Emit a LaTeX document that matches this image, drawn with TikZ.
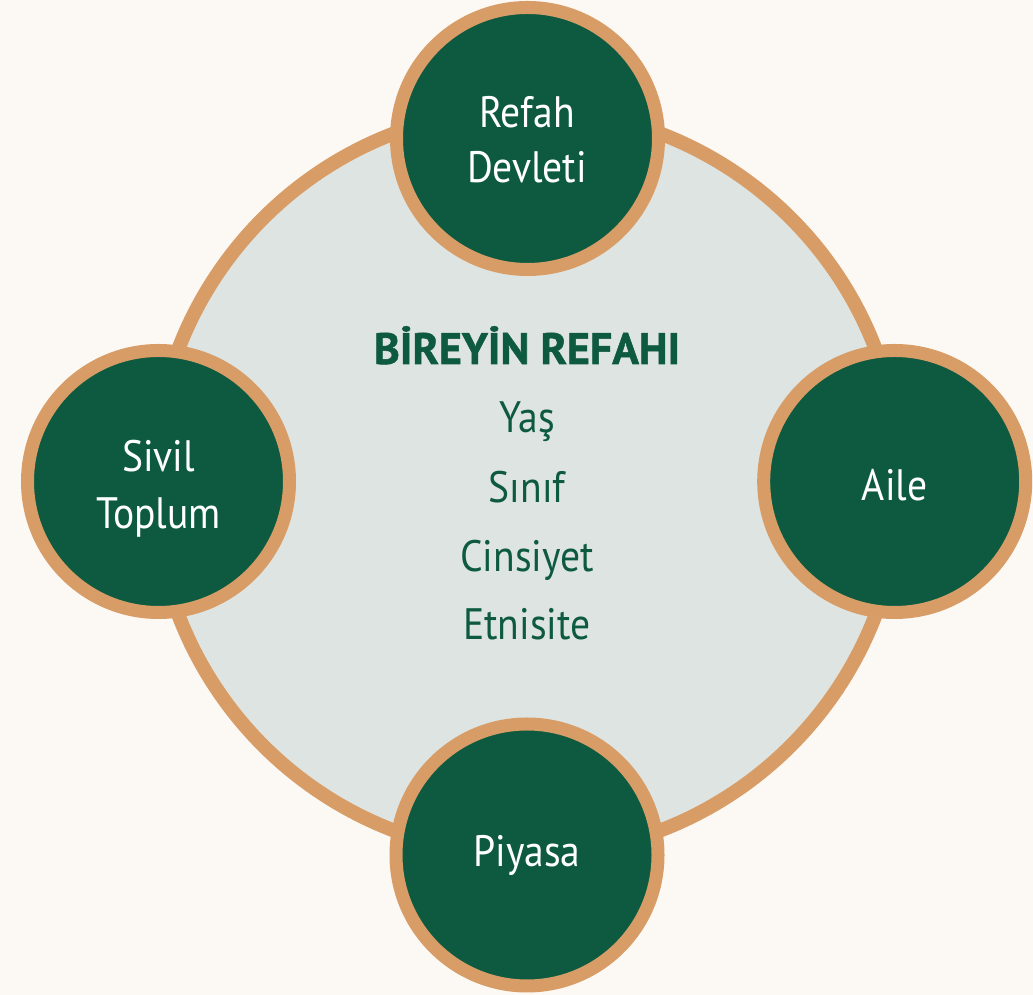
\documentclass[tikz,border=0pt]{standalone}
\usepackage{fontspec}
\setmainfont{PT Sans}[FakeStretch=0.9]
\newfontfamily\titlefont{PT Sans}[FakeStretch=1.0,UprightFont=* Bold,FakeBold=1.2]
\definecolor{bgc}{HTML}{FCF8F3}
\definecolor{ringc}{HTML}{D89C66}
\definecolor{greenc}{HTML}{0D5A40}
\definecolor{palec}{HTML}{DEE4E1}
\tikzset{
  x=1pt,y=1pt,
  hub/.style={circle,draw=ringc,line width=14pt,fill=palec,minimum size=746pt,inner sep=0pt},
  sat/.style={circle,draw=ringc,line width=13pt,fill=greenc,minimum size=262pt,inner sep=0pt},
  wlab/.style={anchor=base,text=white,font=\fontsize{44}{44}\selectfont,inner sep=0pt},
  glab/.style={anchor=base,text=greenc,font=\fontsize{44}{44}\selectfont,inner sep=0pt},
  gtitle/.style={anchor=base,text=greenc,font=\titlefont\fontsize{44}{44}\selectfont,inner sep=0pt}
}
\begin{document}
\begin{tikzpicture}
\fill[bgc] (0,0) rectangle (1033,995);
\useasboundingbox (0,0) rectangle (1033,995);
\node[hub] (hub) at (527,513) {};
\node[sat] (refah) at (527.5,856.5) {};
\node[sat] (sivil) at (158.5,513.5) {};
\node[sat] (aile) at (894.7,513.5) {};
\node[sat] (piyasa) at (527,140) {};
\node[wlab] (t1) at (527,867) {Refah};
\node[wlab] (t2) at (527,812) {Devleti};
\node[wlab] (t3) at (158.5,523) {Sivil};
\node[wlab] (t4) at (158.5,466) {Toplum};
\node[wlab] (t5) at (894.7,494) {Aile};
\node[wlab] (t6) at (527,128) {Piyasa};
\node[gtitle] (c0) at (527,631) {BİREYİN REFAHI};
\node[glab] (c1) at (527,562) {Yaş};
\node[glab] (c2) at (527,492) {Sınıf};
\node[glab] (c3) at (527,423) {Cinsiyet};
\node[glab] (c4) at (527,355) {Etnisite};
\end{tikzpicture}
\end{document}
